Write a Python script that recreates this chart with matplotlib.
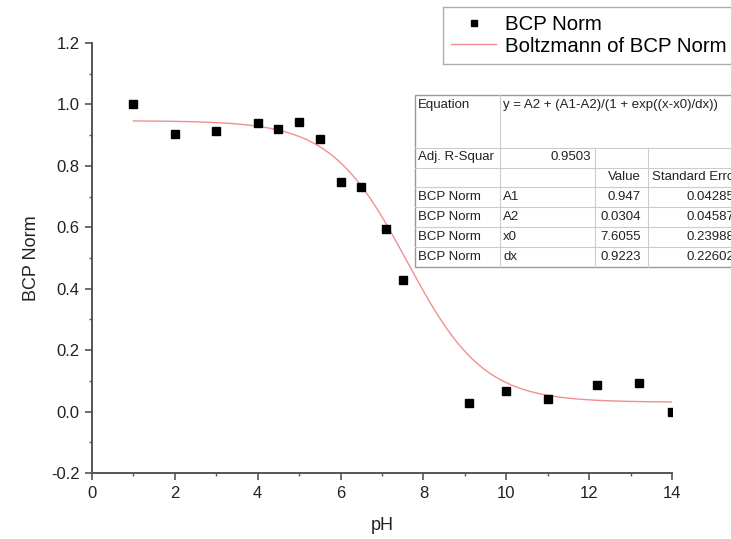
import numpy as np
import matplotlib
matplotlib.use("Agg")
import matplotlib.pyplot as plt
from matplotlib.patches import Rectangle

# ─── data ────────────────────────────────────────────────────
ph = [1, 2, 3, 4, 4.5, 5, 5.5, 6, 6.5, 7.1, 7.5, 9.1, 10, 11, 12.2, 13.2, 14]
bcp_norm = [1.0, 0.904, 0.914, 0.938, 0.921, 0.943, 0.887, 0.748, 0.730,
            0.594, 0.429, 0.029, 0.066, 0.041, 0.087, 0.094, 0.0]

# Boltzmann fit parameters as printed in the table
param_names = ["A1", "A2", "x0", "dx"]
param_values = [0.947, 0.0304, 7.6055, 0.9223]
param_errors = [0.04285, 0.04587, 0.23988, 0.22602]
adj_r2 = "0.9503"
eq_text = "y = A2 + (A1-A2)/(1 + exp((x-x0)/dx))"

xticks = [0, 2, 4, 6, 8, 10, 12, 14]
yticks = [-0.2, 0.0, 0.2, 0.4, 0.6, 0.8, 1.0, 1.2]

plt.rcParams['font.family'] = ['Liberation Sans', 'DejaVu Sans']

W, H = 731, 539
fig = plt.figure(figsize=(W / 100, H / 100), dpi=100)
ax = fig.add_axes([92 / W, 1 - 473 / H, 580 / W, 430 / H])

# --- fit curve from the table parameters ---
A1, A2, x0, dx = param_values
xf = np.linspace(ph[0], ph[-1], 300)
yf = A2 + (A1 - A2) / (1 + np.exp((xf - x0) / dx))
ax.plot(xf, yf, color='#f09090', lw=1.0, label='Boltzmann of BCP Norm', zorder=2)

# --- measured points ---
ax.plot(ph, bcp_norm, linestyle='none', marker='s', ms=6, color='black',
        label='BCP Norm', zorder=3)

# --- axes ---
ax.set_xlim(0, 14)
ax.set_ylim(-0.2, 1.2)
ax.set_xticks(xticks)
ax.set_yticks(yticks)
ax.set_xticklabels([str(t) for t in xticks])
ax.set_yticklabels([f"{t:.1f}" for t in yticks])
ax.set_xticks(np.arange(1, 14, 2), minor=True)
ax.set_yticks(np.arange(-0.1, 1.2, 0.2), minor=True)
for s in ['top', 'right']:
    ax.spines[s].set_visible(False)
for s in ['left', 'bottom']:
    ax.spines[s].set_color('#555555')
    ax.spines[s].set_linewidth(1.4)
ax.tick_params(which='major', direction='out', length=5, width=1.2,
               color='#555555', labelsize=12, labelcolor='#222222', pad=4)
ax.tick_params(which='minor', direction='out', length=2.5, width=1.0,
               color='#555555')
ax.set_xlabel('pH', fontsize=13, color='#222222', labelpad=12)
ax.set_ylabel('BCP Norm', fontsize=13, color='#222222', labelpad=8)

# --- legend (runs off the right edge like the original) ---
handles, labels = ax.get_legend_handles_labels()
leg = ax.legend(handles[::-1], labels[::-1], loc='upper left', mode='expand',
                bbox_to_anchor=(443 / W, 1 - 63 / H, 305 / W, 56 / H),
                bbox_transform=fig.transFigure,
                fontsize=14.7, frameon=True, fancybox=False, edgecolor='#999999',
                handlelength=2.2, handletextpad=0.45, borderpad=0.4,
                labelspacing=0.12, borderaxespad=0, markerscale=0.75)
leg.get_frame().set_linewidth(1.0)

# --- fit results table, drawn in pixel space on an overlay ---
ov = fig.add_axes([0, 0, 1, 1], zorder=5)
ov.set_xlim(0, W)
ov.set_ylim(H, 0)
ov.axis('off')

left, top, right = 415, 95, 745
col_x = [415, 500, 595, 648]
row_y = [95, 148, 168, 187, 207, 227, 247, 267]
grid_c = '#cccccc'
ov.add_patch(Rectangle((left, top), right - left, row_y[-1] - top,
                       facecolor='white', edgecolor='#999999', lw=1.0, clip_on=False))
for y in row_y[1:-1]:
    ov.plot([left, right], [y, y], color=grid_c, lw=0.8, clip_on=False)
ov.plot([col_x[1]] * 2, [top, row_y[-1]], color=grid_c, lw=0.8, clip_on=False)
for cx in col_x[2:]:
    ov.plot([cx, cx], [row_y[1], row_y[-1]], color=grid_c, lw=0.8, clip_on=False)

fs = 9.5
tc = '#222222'
ov.text(418, 105, 'Equation', fontsize=fs, color=tc, va='center')
ov.text(503, 105, eq_text, fontsize=fs, color=tc, va='center')
ov.text(418, 157, 'Adj. R-Squar', fontsize=fs, color=tc, va='center')
ov.text(591, 157, adj_r2, fontsize=fs, color=tc, va='center', ha='right')
ov.text(641, 177, 'Value', fontsize=fs, color=tc, va='center', ha='right')
ov.text(652, 177, 'Standard Error', fontsize=fs, color=tc, va='center')
for i, (nm, v, e) in enumerate(zip(param_names, param_values, param_errors)):
    yc = (row_y[3 + i] + row_y[4 + i]) / 2
    ov.text(418, yc, 'BCP Norm', fontsize=fs, color=tc, va='center')
    ov.text(503, yc, nm, fontsize=fs, color=tc, va='center')
    ov.text(641, yc, f"{v:g}", fontsize=fs, color=tc, va='center', ha='right')
    ov.text(734, yc, f"{e:g}", fontsize=fs, color=tc, va='center', ha='right')

fig.savefig('out.png', dpi=100)
